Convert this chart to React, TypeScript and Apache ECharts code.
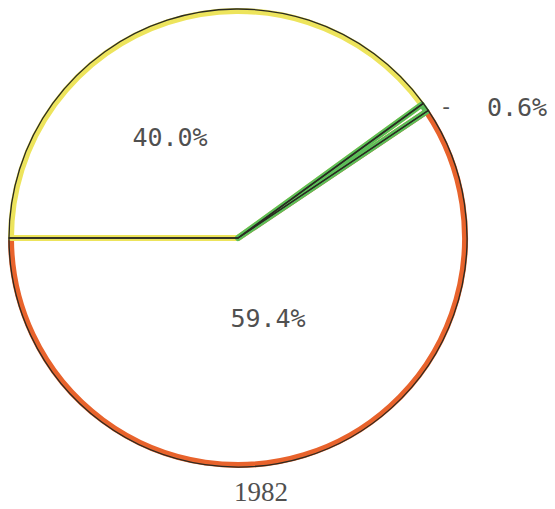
import React, { useEffect, useRef } from "react";
import * as echarts from "echarts";

const categories = ["A", "B", "C"];
const values = [40.0, 0.6, 59.4];
const colors = ["#ede45c", "#5cbd58", "#e8632c"];
const yearLabel = "1982";

const CX = 238;
const CY = 238;
const R = 229;

function layer(idx: number, color: string, width: number, z: number) {
  return {
    type: "pie",
    z,
    center: [CX, CY],
    radius: [0, R - 2],
    startAngle: 180,
    clockwise: true,
    silent: true,
    label: { show: false },
    labelLine: { show: false },
    emphasis: { disabled: true },
    data: categories.map((name, i) => ({
      name,
      value: values[i],
      itemStyle:
        i === idx
          ? { color: "rgba(0,0,0,0)", borderColor: color, borderWidth: width, borderJoin: "round" }
          : { color: "rgba(0,0,0,0)", borderWidth: 0 },
    })),
  };
}

export default function App() {
  const ref = useRef<HTMLDivElement>(null);
  useEffect(() => {
    document.body.style.margin = "0";
    const chart = echarts.init(ref.current!, undefined, { renderer: "svg" });
    const fmt = (v: number) => v.toFixed(1) + "%";
    const textColor = "#505050";
    chart.setOption({
      animation: false,
      backgroundColor: "#ffffff",
      series: [
        layer(2, colors[2], 6, 1),
        layer(0, colors[0], 6, 2),
        layer(1, colors[1], 6, 3),
        {
          type: "pie",
          z: 4,
          center: [CX, CY],
          radius: [0, R],
          startAngle: 180,
          clockwise: true,
          silent: true,
          label: { show: false },
          labelLine: { show: false },
          emphasis: { disabled: true },
          data: categories.map((name, i) => ({
            name,
            value: values[i],
            itemStyle: { color: "rgba(0,0,0,0)", borderColor: "#2a2a22", borderWidth: 1.3 },
          })),
        },
      ],
      graphic: [
        {
          type: "text",
          x: 170,
          y: 137,
          style: {
            text: fmt(values[0]),
            font: "25px 'DejaVu Sans Mono'",
            fill: textColor,
            align: "center",
            verticalAlign: "middle",
          },
        },
        {
          type: "text",
          x: 268,
          y: 318,
          style: {
            text: fmt(values[2]),
            font: "25px 'DejaVu Sans Mono'",
            fill: textColor,
            align: "center",
            verticalAlign: "middle",
          },
        },
        {
          type: "text",
          x: 446,
          y: 106,
          style: {
            text: "-",
            font: "22px 'DejaVu Sans Mono'",
            fill: textColor,
            align: "center",
            verticalAlign: "middle",
          },
        },
        {
          type: "text",
          x: 517,
          y: 107,
          style: {
            text: fmt(values[1]),
            font: "25px 'DejaVu Sans Mono'",
            fill: textColor,
            align: "center",
            verticalAlign: "middle",
          },
        },
        {
          type: "text",
          x: 261,
          y: 492,
          style: {
            text: yearLabel,
            font: "27px 'Liberation Serif'",
            fill: textColor,
            align: "center",
            verticalAlign: "middle",
          },
        },
      ],
    });
    return () => chart.dispose();
  }, []);
  return <div ref={ref} style={{ width: 555, height: 509 }} />;
}
